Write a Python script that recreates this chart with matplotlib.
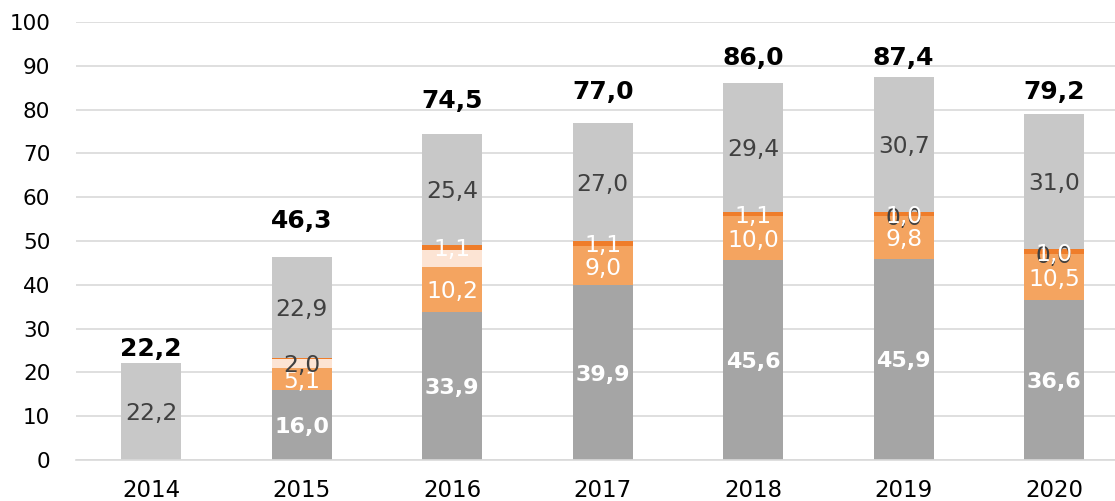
import matplotlib
matplotlib.use("Agg")
import matplotlib.pyplot as plt
import numpy as np

plt.rcParams['font.family'] = ['DejaVu Sans']

years = ["2014", "2015", "2016", "2017", "2018", "2019", "2020"]
dark_gray = [0.0, 16.0, 33.9, 39.9, 45.6, 45.9, 36.6]
orange = [0.0, 5.1, 10.2, 9.0, 10.0, 9.8, 10.5]
peach = [0.0, 2.0, 3.9, 0.0, 0.0, 0.0, 0.0]
dark_orange = [0.0, 0.3, 1.1, 1.1, 1.1, 1.0, 1.0]
light_gray = [22.2, 22.9, 25.4, 27.0, 29.4, 30.7, 31.0]
totals = [22.2, 46.3, 74.5, 77.0, 86.0, 87.4, 79.2]

# label text shown per segment (None = no label)
dark_gray_lbl = [None, "16,0", "33,9", "39,9", "45,6", "45,9", "36,6"]
orange_lbl = [None, "5,1", "10,2", "9,0", "10,0", "9,8", "10,5"]
peach_lbl = [None, "2,0", None, None, None, "0,0", "0,0"]
dark_orange_lbl = [None, None, "1,1", "1,1", "1,1", "1,0", "1,0"]
light_gray_lbl = ["22,2", "22,9", "25,4", "27,0", "29,4", "30,7", "31,0"]

# layout: gap between bar top and total label baseline (data units)
total_label_gap = [1.5, 6.7, 5.9, 5.4, 4.2, 2.8, 3.2]

W, H = 1115, 501
fig = plt.figure(figsize=(W / 100, H / 100), dpi=100)
ax = fig.add_axes([76 / W, (H - 460) / H, (1115 - 76) / W, (460 - 22) / H])

x = np.arange(len(years))
bw = 0.4
series = [
    (dark_gray, "#A5A5A5", dark_gray_lbl, "white", "bold", 16),
    (orange, "#F4A460", orange_lbl, "white", "normal", 16.8),
    (peach, "#FCE4D4", peach_lbl, "#404040", "normal", 16.8),
    (dark_orange, "#EF7D2A", dark_orange_lbl, "white", "normal", 16.8),
    (light_gray, "#C8C8C8", light_gray_lbl, "#404040", "normal", 16.8),
]
bottom = np.zeros(len(years))
for vals, col, lbls, tcol, tw, fs in series:
    v = np.array(vals)
    ax.bar(x, v, bw, bottom=bottom, color=col, zorder=2)
    for i, l in enumerate(lbls):
        if l is not None:
            ax.text(x[i], bottom[i] + v[i] / 2, l, ha="center", va="center_baseline",
                    color=tcol, fontsize=fs, fontweight=tw, zorder=4)
    bottom += v

for i, t in enumerate(totals):
    ax.text(x[i], t + total_label_gap[i], f"{t:.1f}".replace(".", ","),
            ha="center", va="baseline",
            fontsize=18, fontweight="bold", color="black", zorder=4)

ax.set_ylim(0, 100)
ax.set_xlim(-0.5, -0.5 + (1115 - 76) / 150.5)
ax.set_yticks(np.arange(0, 101, 10))
ax.set_xticks(x)
ax.set_xticklabels(years)
ax.tick_params(axis="both", length=0, colors="black")
ax.tick_params(axis="y", pad=18.5, labelsize=15.5)
ax.tick_params(axis="x", pad=14, labelsize=16.5)
ax.grid(axis="y", color="#D9D9D9", linewidth=1.2, zorder=0)
for s in ["top", "right", "left"]:
    ax.spines[s].set_visible(False)
ax.spines["bottom"].set_color("#D9D9D9")
ax.spines["bottom"].set_linewidth(1.2)

fig.savefig("out.png", dpi=100)
